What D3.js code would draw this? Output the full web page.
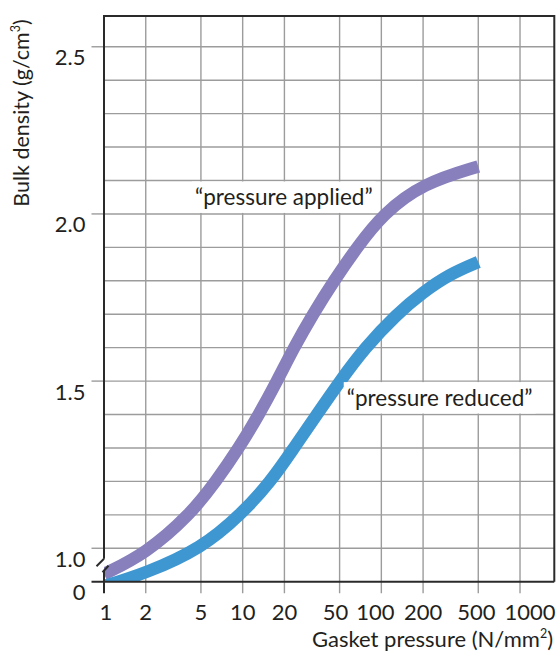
<!DOCTYPE html>
<html>
<head>
<meta charset="utf-8">
<script src="https://cdn.jsdelivr.net/npm/d3@7/dist/d3.min.js"></script>
<style>
  html, body { margin: 0; padding: 0; background: #fff; }
  svg { display: block; }
  text { font-family: "Lato", "DejaVu Sans", sans-serif; fill: #231f20; }
</style>
</head>
<body>
<svg id="chart" width="558" height="657"></svg>
<script>
// Gasket pressure (N/mm²) sample points for each curve
const appliedPressure = [1, 2, 4.17, 6.42, 9.40, 13.1, 17.7, 23.4, 32.1, 45.5, 66.7, 102.7, 200, 500];
const appliedDensity  = [0.923, 0.984, 1.10, 1.20, 1.30, 1.40, 1.50, 1.60, 1.70, 1.80, 1.90, 2.00, 2.092, 2.142];

const reducedPressure = [1, 2, 5.06, 9.67, 16.0, 23.4, 34.3, 50.3, 76.2, 128.9, 200, 312, 500];
const reducedDensity  = [0.887, 0.925, 1.00, 1.10, 1.20, 1.30, 1.40, 1.50, 1.60, 1.70, 1.766, 1.82, 1.856];

// Axis ticks
const xTicks = [1, 2, 5, 10, 20, 50, 100, 200, 500, 1000];
const yMajorTicks = [1.0, 1.5, 2.0, 2.5];
const yGridLines = d3.range(10, 26).map(d => d / 10);   // 1.0 … 2.5 every 0.1
const yFloor = 0.9;        // where the broken axis meets the x axis (labelled "0")
const yFloorLabel = "0";
const yTop = 2.592;
const xRight = 1767;

const seriesNames = ["\u201cpressure applied\u201d", "\u201cpressure reduced\u201d"];
const labelPos = [{x: 4.53, y: 2.026}, {x: 56.3, y: 1.425}];
const labelBand = [[2.0, 2.1], [1.4, 1.5]];

const colors = ["#8880bd", "#3f97d2"];

const svg = d3.select("#chart");
const pL = 104, pR = 554.3, pT = 16, pB = 581.7;

const x = d3.scaleLog().domain([1, xRight]).range([pL, pR]);
const y = d3.scaleLinear().domain([yFloor, yTop]).range([pB, pT]);

const gridColor = "#9c9c9c";
const axisColor = "#2a2a2a";
const tickFont = 22;

// Grid
const grid = svg.append("g");
grid.selectAll("line.h").data(yGridLines).join("line").attr("class", "h")
  .attr("x1", pL).attr("x2", pR)
  .attr("y1", d => y(d)).attr("y2", d => y(d))
  .attr("stroke", gridColor).attr("stroke-width", 1.4);
grid.selectAll("line.v").data(xTicks.filter(d => d > 1)).join("line").attr("class", "v")
  .attr("x1", d => x(d)).attr("x2", d => x(d))
  .attr("y1", pT).attr("y2", pB + 11.5)
  .attr("stroke", gridColor).attr("stroke-width", 1.4);
// major y ticks extend to the left
grid.selectAll("line.t").data(yMajorTicks).join("line").attr("class", "t")
  .attr("x1", pL - 12.5).attr("x2", pL)
  .attr("y1", d => y(d)).attr("y2", d => y(d))
  .attr("stroke", gridColor).attr("stroke-width", 1.4);

// Curves (smoothed B-spline through the sample points)
svg.append("clipPath").attr("id", "plotClip").append("rect")
  .attr("x", pL).attr("y", pT).attr("width", pR - pL).attr("height", pB - pT);

const line = d3.line().x(d => x(d[0])).y(d => y(d[1])).curve(d3.curveBasis);
const series = [
  d3.zip(appliedPressure, appliedDensity),
  d3.zip(reducedPressure, reducedDensity)
];
const curves = svg.append("g").attr("clip-path", "url(#plotClip)");
series.forEach((s, i) => {
  curves.append("path").datum(s)
    .attr("d", line)
    .attr("fill", "none")
    .attr("stroke", colors[i])
    .attr("stroke-width", 12.5)
    .attr("stroke-linecap", "butt");
});

// Curve labels on white boxes
const labels = svg.append("g");
seriesNames.forEach((name, i) => {
  const t = labels.append("text")
    .attr("x", x(labelPos[i].x)).attr("y", y(labelPos[i].y))
    .attr("font-size", 22.5)
    .text(name);
  const bb = t.node().getBBox();
  labels.insert("rect", "text")
    .attr("x", bb.x - 3).attr("width", bb.width + 6)
    .attr("y", y(labelBand[i][1]) + 1).attr("height", y(labelBand[i][0]) - y(labelBand[i][1]) - 2)
    .attr("fill", "#fff");
});

// Frame and axes
const frame = svg.append("g").attr("stroke", axisColor).attr("fill", "none").attr("stroke-width", 2);
frame.append("path").attr("d", `M${pL},${y(1.0) + 10.5} V${pT} H${pR} V${pB}`);
frame.append("line").attr("x1", pL - 12.5).attr("x2", pR).attr("y1", pB).attr("y2", pB);
// axis break
frame.append("line").attr("x1", pL).attr("y1", y(1.0) + 10.5).attr("x2", pL - 7.5).attr("y2", y(1.0) + 18);
frame.append("line").attr("x1", pL).attr("y1", pB - 11).attr("x2", pL).attr("y2", pB + 11.5);
frame.append("line").attr("x1", pL - 1.5).attr("y1", pB - 9.5).attr("x2", pL + 4.5).attr("y2", pB - 16);

// Tick labels
const yLab = svg.append("g").attr("font-size", tickFont).attr("text-anchor", "end");
yLab.selectAll("text").data(yMajorTicks).join("text")
  .attr("x", 85.5).attr("y", d => y(d) + 18.5)
  .text(d => d3.format(".1f")(d));
yLab.append("text").attr("x", 85.5).attr("y", pB + 18.5).text(yFloorLabel);

const nudge = {1: 2, 50: -4, 100: -6, 500: -2, 1000: 10};
svg.append("g").attr("font-size", tickFont).attr("text-anchor", "middle")
  .selectAll("text").data(xTicks).join("text")
  .attr("x", d => x(d) + (nudge[d] || 0))
  .attr("y", 620)
  .text(d => d);

// Axis titles
const xt = svg.append("text").attr("x", 553).attr("y", 647).attr("text-anchor", "end").attr("font-size", 22);
xt.append("tspan").text("Gasket pressure (N/mm");
xt.append("tspan").attr("font-size", 12.5).attr("dy", -9).text("2");
xt.append("tspan").attr("dy", 9).text(")");

const yt = svg.append("text").attr("transform", "translate(29,113) rotate(-90)")
  .attr("text-anchor", "middle").attr("font-size", 21.5);
yt.append("tspan").text("Bulk density (g/cm");
yt.append("tspan").attr("font-size", 12.5).attr("dy", -9).text("3");
yt.append("tspan").attr("dy", 9).text(")");
</script>
</body>
</html>
